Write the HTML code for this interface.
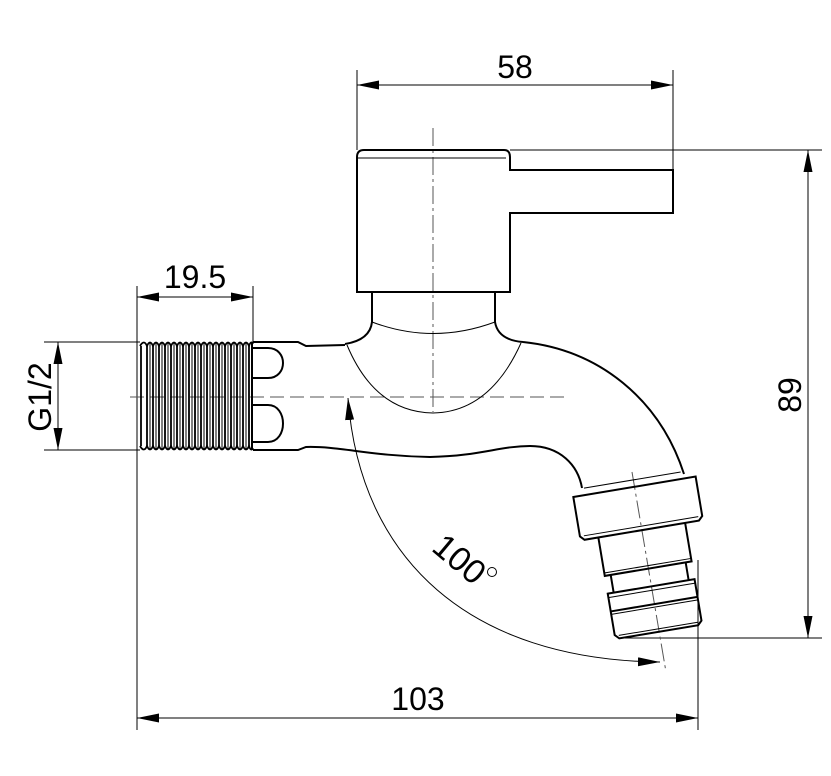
<!DOCTYPE html>
<html><head><meta charset="utf-8"><style>
html,body{margin:0;padding:0;background:#fff;}
svg{display:block;}
text{font-family:"Liberation Sans",Arial,sans-serif;fill:#000;}
</style></head><body>
<svg width="831" height="776" viewBox="0 0 831 776" xmlns="http://www.w3.org/2000/svg">
<defs>
<marker id="a" viewBox="0 0 22 9" refX="22" refY="4.5" markerWidth="22" markerHeight="9" markerUnits="userSpaceOnUse" orient="auto-start-reverse"><path d="M0,0 L22,4.5 L0,9 z" fill="#000"/></marker>
</defs>
<g stroke="#000" fill="none">
<g stroke-width="1">
<line x1="357" y1="70" x2="357" y2="150"/>
<line x1="673" y1="70" x2="673" y2="170"/>
<line x1="510" y1="150" x2="822" y2="150"/>
<line x1="625" y1="638" x2="822" y2="638"/>
<line x1="137" y1="286" x2="137" y2="730"/>
<line x1="253" y1="286" x2="253" y2="342"/>
<line x1="698" y1="560" x2="698" y2="730"/>
<line x1="44" y1="342" x2="140" y2="342"/>
<line x1="44" y1="450" x2="140" y2="450"/>
</g>
<g stroke-width="1">
<line x1="357" y1="85" x2="673" y2="85" marker-start="url(#a)" marker-end="url(#a)"/>
<line x1="808" y1="150" x2="808" y2="638" marker-start="url(#a)" marker-end="url(#a)"/>
<line x1="137" y1="718" x2="698" y2="718" marker-start="url(#a)" marker-end="url(#a)"/>
<line x1="137" y1="297" x2="253" y2="297" marker-start="url(#a)" marker-end="url(#a)"/>
<line x1="58" y1="342" x2="58" y2="450" marker-start="url(#a)" marker-end="url(#a)"/>
<path d="M348,398 C360,560 470,660 660,662" marker-start="url(#a)" marker-end="url(#a)"/>
</g>
<line x1="130" y1="397" x2="566" y2="397" stroke-width="1" stroke-dasharray="14,6" stroke="#555"/>
<line x1="433" y1="128" x2="433" y2="412" stroke-width="1" stroke-dasharray="18,4,3,4" stroke="#555"/>
<line x1="632" y1="472" x2="666" y2="672" stroke-width="1" stroke-dasharray="18,4,3,4" stroke="#555"/>
<g stroke-width="2">
<path d="M357,157 Q357,150 364,150 L504,150 Q510,150 510,157 L510,170 L673,170 L673,213 L510,213 L510,292 L357,292 Z"/>
<line x1="357" y1="158" x2="506" y2="158" stroke-width="1"/>
<line x1="372" y1="292" x2="372" y2="322"/>
<line x1="495" y1="292" x2="495" y2="322"/>
<path d="M372,322 Q370,340 345,344"/>
<path d="M495,322 Q498,340 523,342"/>
</g>
<path d="M372,322 Q433,345 495,322" stroke-width="1"/>
<path d="M347,345 Q375,412 433,413 Q490,412 521,343" stroke-width="1"/>
<g stroke-width="2">
<path d="M253,342 L298,342 L306,346 L345,345"/>
<path d="M523,342 C600,350 660,400 684,474"/>
<path d="M253,450 L298,450 L306,447 C340,446 370,456 430,457 C480,456 500,446 530,446 C560,446 578,465 582,488"/>
<path d="M253,348 L268,348 C288,348 288,378 268,378 L253,378"/>
<path d="M253,405 L268,405 C288,405 288,442 268,442 L253,442"/>
</g>
<g stroke-width="1.8">
<path d="M140,346 Q144,339 147,346 Q150,339 153,346 Q156,339 159,346 Q162,339 165,346 Q168,339 171,346 Q174,339 177,346 Q180,339 183,346 Q186,339 189,346 Q192,339 195,346 Q198,339 201,346 Q204,339 207,346 Q210,339 213,346 Q216,339 219,346 Q222,339 225,346 Q228,339 231,346 Q234,339 237,346 Q240,339 243,346 Q246,339 249,346 Q251,340 253,344"/>
<path d="M140,446 Q144,453 147,446 Q150,453 153,446 Q156,453 159,446 Q162,453 165,446 Q168,453 171,446 Q174,453 177,446 Q180,453 183,446 Q186,453 189,446 Q192,453 195,446 Q198,453 201,446 Q204,453 207,446 Q210,453 213,446 Q216,453 219,446 Q222,453 225,446 Q228,453 231,446 Q234,453 237,446 Q240,453 243,446 Q246,453 249,446 Q251,452 253,448"/>
<path d="M141,346 L141,446 M147,346 L147,446 M153,346 L153,446 M159,346 L159,446 M165,346 L165,446 M171,346 L171,446 M177,346 L177,446 M183,346 L183,446 M189,346 L189,446 M195,346 L195,446 M201,346 L201,446 M207,346 L207,446 M213,346 L213,446 M219,346 L219,446 M225,346 L225,446 M231,346 L231,446 M237,346 L237,446 M243,346 L243,446 M249,346 L249,446"/>
<path d="M150,343 L150,449 M156,343 L156,449 M162,343 L162,449 M168,343 L168,449 M174,343 L174,449 M180,343 L180,449 M186,343 L186,449 M192,343 L192,449 M198,343 L198,449 M204,343 L204,449 M210,343 L210,449 M216,343 L216,449 M222,343 L222,449 M228,343 L228,449 M234,343 L234,449 M240,343 L240,449 M246,343 L246,449" stroke-width="1"/>
<line x1="252" y1="342" x2="252" y2="450" stroke-width="2"/>
</g>
<g transform="translate(632,472) rotate(-9.5)" stroke-width="2">
<line x1="-50" y1="8" x2="48" y2="8" stroke-width="1"/>
<path d="M-62,15 L62,15 L62,55 L58,59 L-58,59 L-62,55 Z"/>
<line x1="-58" y1="55" x2="58" y2="55" stroke-width="1"/>
<path d="M-44,59 L-44,98 L44,98 L44,59"/>
<line x1="-44" y1="95" x2="44" y2="95" stroke-width="1"/>
<path d="M-38,98 L-38,116 M38,98 L38,116"/>
<path d="M-44,116 L44,116 L44,158 L40,162 L-40,162 L-44,158 Z"/>
<line x1="-44" y1="120" x2="44" y2="120" stroke-width="1"/>
<line x1="-44" y1="134" x2="44" y2="134"/>
<line x1="-44" y1="137" x2="44" y2="137" stroke-width="1"/>
<line x1="-40" y1="159" x2="40" y2="159" stroke-width="1"/>
</g>
<circle cx="492" cy="572" r="4.5" stroke-width="1"/>
</g>
<text x="515" y="78" font-size="32" text-anchor="middle">58</text>
<text x="195" y="288" font-size="32" text-anchor="middle">19.5</text>
<text x="418" y="710" font-size="32" text-anchor="middle">103</text>
<text transform="translate(801,395) rotate(-90)" font-size="32" text-anchor="middle">89</text>
<text transform="translate(51,397) rotate(-90)" font-size="32" text-anchor="middle">G1/2</text>
<text transform="translate(452,568) rotate(40)" font-size="34" text-anchor="middle">100</text>
</svg>
</body></html>
